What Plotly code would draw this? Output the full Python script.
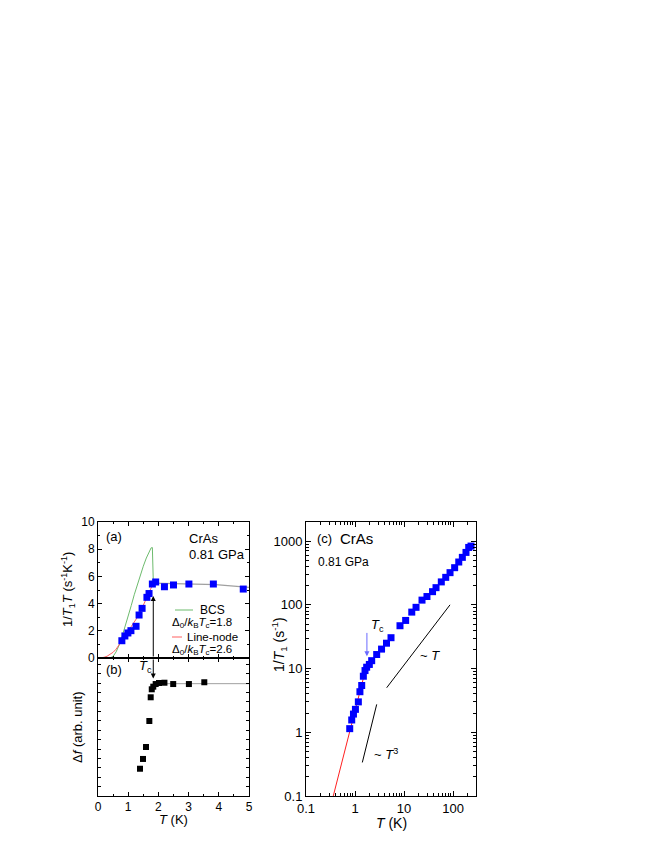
import plotly.graph_objects as go

# ---------------- data ----------------
# panel (a): 1/T1T vs T
a_T = [0.79, 0.89, 0.99, 1.09, 1.26, 1.36, 1.46, 1.62, 1.69, 1.80, 1.91, 2.20, 2.50, 3.01, 3.82, 4.81]
a_v = [1.27, 1.62, 1.84, 2.01, 2.33, 3.16, 3.65, 4.46, 4.74, 5.44, 5.59, 5.24, 5.37, 5.44, 5.44, 5.07]

# normal-state guide line (a)
an_T = [1.83, 2.5, 3.0, 3.9, 5.0]
an_v = [5.50, 5.47, 5.46, 5.40, 5.20]

# BCS curve (a)
bcs_T = [0.40, 0.50, 0.60, 0.70, 0.80, 0.90, 1.00, 1.10, 1.20, 1.30, 1.40, 1.50, 1.60, 1.70, 1.76, 1.80, 1.83]
bcs_v = [0.00, 0.12, 0.45, 0.95, 1.60, 2.30, 3.05, 3.85, 4.65, 5.40, 6.10, 6.75, 7.35, 7.85, 8.10, 8.12, 5.70]

# line-node curve (a)
ln_T = [0.0, 0.1, 0.2, 0.3, 0.4, 0.5, 0.6, 0.7, 0.8, 0.9, 1.0, 1.1, 1.2, 1.3, 1.4, 1.5, 1.6, 1.7, 1.8, 1.83]
ln_v = [0.0, 0.01, 0.05, 0.13, 0.25, 0.42, 0.65, 0.95, 1.30, 1.65, 1.98, 2.30, 2.62, 2.98, 3.38, 3.85, 4.35, 4.85, 5.35, 5.50]

# panel (b): delta f (arb. unit)
b_T = [1.39, 1.49, 1.59, 1.70, 1.745, 1.78, 1.83, 1.91, 2.02, 2.20, 2.49, 3.01, 3.52]
b_v = [2.90, 3.94, 5.21, 7.98, 10.5, 11.35, 11.63, 11.91, 12.02, 12.05, 11.91, 11.91, 12.10]
bn_T = [1.95, 5.0]
bn_v = [11.95, 11.95]

# panel (c): 1/T1 vs T (log-log)
c_T = [0.78, 0.857, 0.93, 1.02, 1.17, 1.26, 1.37, 1.48, 1.60, 1.73, 1.96, 2.19, 2.77, 3.48, 4.39, 5.43,
       8.28, 10.8, 14.4, 17.6, 23.3, 29.4, 38.2, 45.0, 57.7, 71.0, 86.9, 108, 131, 155, 184, 209, 233]
c_v = [1.14, 1.56, 1.93, 2.29, 3.0, 4.33, 5.42, 7.58, 9.3, 10.5, 11.6, 13.3, 16.6, 20.2, 25.0, 30.5,
       47.0, 56.9, 76.9, 91.4, 118.6, 135, 161, 186, 229, 270, 320, 383, 470, 556, 665, 796, 836]

# guide lines (c)
red_T = [0.36, 1.68]
red_v = [0.1, 10.3]
lineT_T = [4.43, 86.9]
lineT_v = [5.0, 100.0]
lineT3_T = [1.41, 2.77]
lineT3_v = [0.336, 2.74]

# tick labels
left_xticks = [0, 1, 2, 3, 4, 5]
a_yticks = [0, 2, 4, 6, 8, 10]
c_xticks = [0.1, 1, 10, 100]
c_xtext = ["0.1", "1", "10", "100"]
c_yticks = [0.1, 1, 10, 100, 1000]
c_ytext = ["0.1", "1", "10", "100", "1000"]

# ---------------- figure ----------------
OFF = 8                      # default page (body) margin of the html page
W, H = 664 - 2 * OFF, 860 - 2 * OFF
FONT = "Arial, Liberation Sans, sans-serif"


def px(x):
    return (x - OFF) / W


def py(y):
    return 1 - (y - OFF) / H


fig = go.Figure()

# (a)
fig.add_trace(go.Scatter(x=an_T, y=an_v, mode="lines", line=dict(color="#a0a0a0", width=1.2),
                         xaxis="x", yaxis="y", showlegend=False))
fig.add_trace(go.Scatter(x=bcs_T, y=bcs_v, mode="lines", line=dict(color="#6dbb6d", width=1),
                         xaxis="x", yaxis="y", showlegend=False))
fig.add_trace(go.Scatter(x=ln_T, y=ln_v, mode="lines", line=dict(color="#ff6060", width=1),
                         xaxis="x", yaxis="y", showlegend=False))
fig.add_trace(go.Scatter(x=a_T, y=a_v, mode="markers",
                         marker=dict(symbol="square", size=7, color="#0000ff"),
                         xaxis="x", yaxis="y", showlegend=False))
# (b)
fig.add_trace(go.Scatter(x=bn_T, y=bn_v, mode="lines", line=dict(color="#a0a0a0", width=1),
                         xaxis="x2", yaxis="y2", showlegend=False))
fig.add_trace(go.Scatter(x=b_T, y=b_v, mode="markers",
                         marker=dict(symbol="square", size=6, color="black"),
                         xaxis="x2", yaxis="y2", showlegend=False))
# (c)
fig.add_trace(go.Scatter(x=red_T, y=red_v, mode="lines", line=dict(color="#ff2020", width=1),
                         xaxis="x3", yaxis="y3", showlegend=False))
fig.add_trace(go.Scatter(x=lineT_T, y=lineT_v, mode="lines", line=dict(color="black", width=1),
                         xaxis="x3", yaxis="y3", showlegend=False))
fig.add_trace(go.Scatter(x=lineT3_T, y=lineT3_v, mode="lines", line=dict(color="black", width=1),
                         xaxis="x3", yaxis="y3", showlegend=False))
fig.add_trace(go.Scatter(x=c_T, y=c_v, mode="markers",
                         marker=dict(symbol="square", size=7, color="#0000ff"),
                         xaxis="x3", yaxis="y3", showlegend=False))

axis_common = dict(showline=True, linecolor="black", linewidth=1, mirror="allticks",
                   ticks="inside", ticklen=4, tickwidth=1, tickcolor="black", automargin=False,
                   showgrid=False, zeroline=False, tickfont=dict(family=FONT, size=12, color="black"))

xl_dom = [px(98), px(249)]
xc_dom = [px(306), px(476)]
ya_dom = [py(658), py(522)]
yb_dom = [py(796), py(658)]
yc_dom = [py(796), py(522)]


def minor(vals, ln=2):
    return dict(tickvals=vals, ticks="inside", ticklen=ln, tickcolor="black", showgrid=False)


c_xminor = [m * d for d in (0.1, 1, 10, 100) for m in range(2, 10) if m * d <= 300]
c_yminor = [m * d for d in (0.1, 1, 10, 100, 1000) for m in range(2, 10) if m * d <= 2000]

fig.update_layout(
    width=W, height=H, margin=dict(l=0, r=0, t=0, b=0, autoexpand=False),
    paper_bgcolor="white", plot_bgcolor="white",
    font=dict(family=FONT, color="black"), showlegend=False,
    xaxis=dict(axis_common, domain=xl_dom, range=[0, 5], anchor="y", tickvals=left_xticks,
               showticklabels=False, minor=minor([0.5, 1.5, 2.5, 3.5, 4.5])),
    yaxis=dict(axis_common, domain=ya_dom, range=[0, 10], anchor="x", tickvals=a_yticks,
               minor=minor([1, 3, 5, 7, 9])),
    xaxis2=dict(axis_common, domain=xl_dom, range=[0, 5], anchor="y2", tickvals=left_xticks,
                minor=minor([0.5, 1.5, 2.5, 3.5, 4.5])),
    yaxis2=dict(axis_common, domain=yb_dom, range=[0, 14.68], anchor="x2", dtick=1,
                showticklabels=False, ticklen=3),
    xaxis3=dict(axis_common, domain=xc_dom, type="log", range=[-1, 2.469], anchor="y3",
                tickvals=c_xticks, ticktext=c_xtext, ticklen=5,
                tickfont=dict(family=FONT, size=13, color="black"), minor=minor(c_xminor, 3)),
    yaxis3=dict(axis_common, domain=yc_dom, type="log", range=[-1, 3.3], anchor="x3",
                tickvals=c_yticks, ticktext=c_ytext, ticklen=5,
                tickfont=dict(family=FONT, size=13, color="black"), minor=minor(c_yminor, 3)),
)

ann = []


def txt(x, y, s, size=12, xanchor="left", angle=0):
    ann.append(dict(x=px(x), y=py(y), xref="paper", yref="paper", text=s, showarrow=False,
                    xanchor=xanchor, yanchor="middle", textangle=angle,
                    font=dict(family=FONT, size=size, color="black")))


# panel (a) texts
txt(104, 536, "(a)", 13)
txt(187, 538, "CrAs", 13)
txt(187, 554, "0.81 GPa", 13)
txt(198, 610, "BCS", 12)
txt(170, 623, "Δ<sub>0</sub>/<i>k</i><sub>B</sub><i>T</i><sub>c</sub>=1.8", 11.5)
txt(185, 637, "Line-node", 11.5)
txt(170, 650, "Δ<sub>0</sub>/<i>k</i><sub>B</sub><i>T</i><sub>c</sub>=2.6", 11.5)
# panel (b)
txt(104, 669, "(b)", 13)
txt(137, 666, "<i>T</i><sub>c</sub>", 13)
# panel (c)
txt(315, 538, "(c)", 13)
txt(338, 538, "CrAs", 15)
txt(316, 562, "0.81 GPa", 12)
txt(369, 625, "<i>T</i><sub>c</sub>", 13)
txt(418, 655, "~ <i>T</i>", 13)
txt(372, 754, "~ <i>T</i><sup>3</sup>", 13)
# axis titles
txt(68, 590, "1/<i>T</i><sub>1</sub><i>T</i> (s<sup>-1</sup>K<sup>-1</sup>)", 13, "center", -90)
txt(77, 727, "Δ<i>f</i> (arb. unit)", 13, "center", -90)
txt(279, 645, "1/<i>T</i><sub>1</sub> (s<sup>-1</sup>)", 14, "center", -90)
txt(173, 819, "<i>T</i> (K)", 13, "center")
txt(391, 823, "<i>T</i> (K)", 14, "center")

# legend line samples in (a)
fig.add_shape(type="line", xref="paper", yref="paper", x0=px(175), x1=px(193), y0=py(610), y1=py(610),
              line=dict(color="#6dbb6d", width=1))
fig.add_shape(type="line", xref="paper", yref="paper", x0=px(172), x1=px(182), y0=py(637), y1=py(637),
              line=dict(color="#ff6060", width=1))

# arrows
ann.append(dict(x=1.83, y=4.56, ax=1.83, ay=0, xref="x", yref="y", axref="x", ayref="y",
                showarrow=True, arrowhead=2, arrowsize=1, arrowwidth=1, arrowcolor="black", text=""))
ann.append(dict(x=1.83, y=12.5, ax=1.83, ay=14.68, xref="x2", yref="y2", axref="x2", ayref="y2",
                showarrow=True, arrowhead=2, arrowsize=1, arrowwidth=1, arrowcolor="black", text=""))
ann.append(dict(x=0.2430, y=1.193, ax=0.2430, ay=1.583, xref="x3", yref="y3", axref="x3", ayref="y3",
                showarrow=True, arrowhead=2, arrowsize=1, arrowwidth=1, arrowcolor="#6a6aff", text=""))

fig.update_layout(annotations=ann)
fig.write_html("out.html")
